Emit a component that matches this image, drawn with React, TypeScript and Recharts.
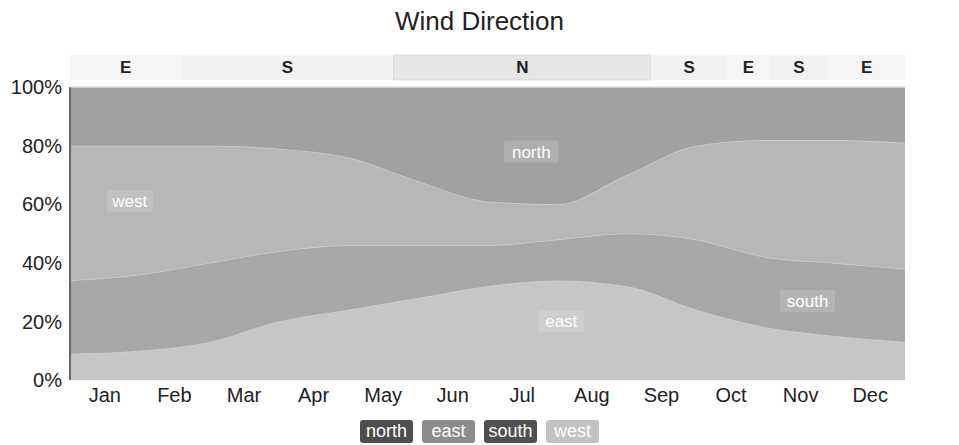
import {
  Area,
  ComposedChart,
  ReferenceArea,
  ReferenceDot,
  ReferenceLine,
  XAxis,
  YAxis,
} from "recharts";

const MONTHS = ["Jan", "Feb", "Mar", "Apr", "May", "Jun", "Jul", "Aug", "Sep", "Oct", "Nov", "Dec"];
// values read at month boundaries (start of Jan ... end of Dec), in percent
const EDGES = [0, 1, 2, 3, 4, 5, 6, 7, 8, 9, 10, 11, 12];
const EAST = [9, 10, 13, 20, 24, 28, 32, 34, 32, 24, 18, 15, 13];
const SOUTH = [25, 26, 27, 24, 22, 18, 14, 14, 18, 24, 24, 25, 25];
const WEST = [46, 44, 40, 35, 30, 22, 15, 12, 20, 32, 40, 42, 43];
const NORTH = [20, 20, 20, 21, 24, 32, 39, 40, 30, 20, 18, 18, 19];

const PCT_TICKS = [0, 20, 40, 60, 80, 100];

// dominant direction strip above the plot
const DOM_LABEL = ["E", "S", "N", "S", "E", "S", "E"];
const DOM_START = [0, 1.6, 4.65, 8.35, 9.45, 10.05, 10.9];
const DOM_END = [1.6, 4.65, 8.35, 9.45, 10.05, 10.9, 12];

const SERIES = ["east", "south", "west", "north"];
const FILLS: Record<string, string> = {
  east: "#c6c6c6",
  south: "#a7a7a7",
  west: "#b7b7b7",
  north: "#a1a1a1",
};
const LEGEND = ["north", "east", "south", "west"];
const LEGEND_FILL: Record<string, string> = {
  north: "#4e4e4e",
  east: "#8c8c8c",
  south: "#505050",
  west: "#c2c2c2",
};

// in-plot series labels: [name, x (months), y (%)]
const TAGS: [string, number, number][] = [
  ["west", 0.86, 61],
  ["north", 6.63, 78],
  ["east", 7.06, 20],
  ["south", 10.6, 27],
];

const FONT = "'Liberation Sans', Arial, sans-serif";

const rows = EDGES.map((x, i) => ({
  x,
  east: EAST[i],
  south: SOUTH[i],
  west: WEST[i],
  north: NORTH[i],
}));

function Tag({ viewBox, text }: any) {
  const cx = viewBox.x + viewBox.width / 2;
  const cy = viewBox.y + viewBox.height / 2;
  const w = text.length * 9 + 10;
  return (
    <g>
      <rect x={cx - w / 2} y={cy - 11} width={w} height={22} fill="#ffffff" fillOpacity={0.15} rx={2} />
      <text x={cx} y={cy} dy="0.35em" textAnchor="middle" fill="#ffffff" fontSize={17} fontFamily={FONT}>
        {text}
      </text>
    </g>
  );
}

export default function App() {
  return (
    <div style={{ position: "relative", width: 959, height: 445, background: "#fff", fontFamily: FONT }}>
      <style>{`body{margin:0}`}</style>
      <div
        style={{
          position: "absolute",
          top: 6,
          left: 0,
          width: 959,
          textAlign: "center",
          fontSize: 26,
          color: "#222",
        }}
      >
        Wind Direction
      </div>
      <ComposedChart width={959} height={445} data={rows} margin={{ top: 55, right: 0, left: 8, bottom: 35 }}>
        <XAxis
          dataKey="x"
          type="number"
          domain={[0, 12]}
          ticks={MONTHS.map((_, i) => i + 0.5)}
          tickFormatter={(v: number) => MONTHS[Math.floor(v)]}
          axisLine={false}
          tickLine={false}
          height={30}
          tick={{ fontSize: 20, fill: "#222", fontFamily: FONT }}
        />
        <YAxis
          yAxisId="left"
          domain={[0, 111]}
          ticks={PCT_TICKS}
          tickFormatter={(v: number) => `${v}%`}
          axisLine={false}
          tickLine={false}
          width={62}
          tick={{ fontSize: 20, fill: "#222", fontFamily: FONT }}
        />
        <YAxis
          yAxisId="right"
          orientation="right"
          reversed
          domain={[-11, 100]}
          ticks={PCT_TICKS}
          tickFormatter={(v: number) => `${v}%`}
          axisLine={false}
          tickLine={false}
          width={54}
          tick={{ fontSize: 20, fill: "#222", fontFamily: FONT }}
        />
        {SERIES.map((s) => (
          <Area
            key={s}
            yAxisId="left"
            type="monotone"
            dataKey={s}
            stackId="1"
            fill={FILLS[s]}
            fillOpacity={1}
            stroke="#cfcfcf"
            strokeWidth={1.5}
            isAnimationActive={false}
          />
        ))}
        {DOM_LABEL.map((d, i) => (
          <ReferenceArea
            key={i}
            yAxisId="left"
            x1={DOM_START[i]}
            x2={DOM_END[i]}
            y1={102.5}
            y2={111}
            fill={d === "N" ? "#e6e6e6" : i % 2 ? "#f1f1f1" : "#f5f5f5"}
            fillOpacity={1}
            stroke={d === "N" ? "#d9d9d9" : "none"}
            label={{ value: d, position: "center", fill: "#222", fontSize: 17, fontWeight: "bold", fontFamily: FONT }}
          />
        ))}
        <ReferenceLine
          yAxisId="left"
          segment={[
            { x: 0, y: 0 },
            { x: 0, y: 100 },
          ]}
          stroke="#666"
          strokeWidth={2}
        />
        {TAGS.map(([name, x, y]) => (
          <ReferenceDot
            key={name}
            yAxisId="left"
            x={x}
            y={y}
            r={1}
            fill="none"
            stroke="none"
            label={(p: any) => <Tag {...p} text={name} />}
          />
        ))}
      </ComposedChart>
      <div style={{ position: "absolute", left: 360, top: 420, display: "flex", gap: 9 }}>
        {LEGEND.map((n) => (
          <div
            key={n}
            style={{
              background: LEGEND_FILL[n],
              color: "#fff",
              fontSize: 18,
              height: 23,
              lineHeight: "23px",
              minWidth: 53,
              textAlign: "center",
              padding: "0 2px",
              boxSizing: "border-box",
              borderRadius: 3,
            }}
          >
            {n}
          </div>
        ))}
      </div>
    </div>
  );
}
